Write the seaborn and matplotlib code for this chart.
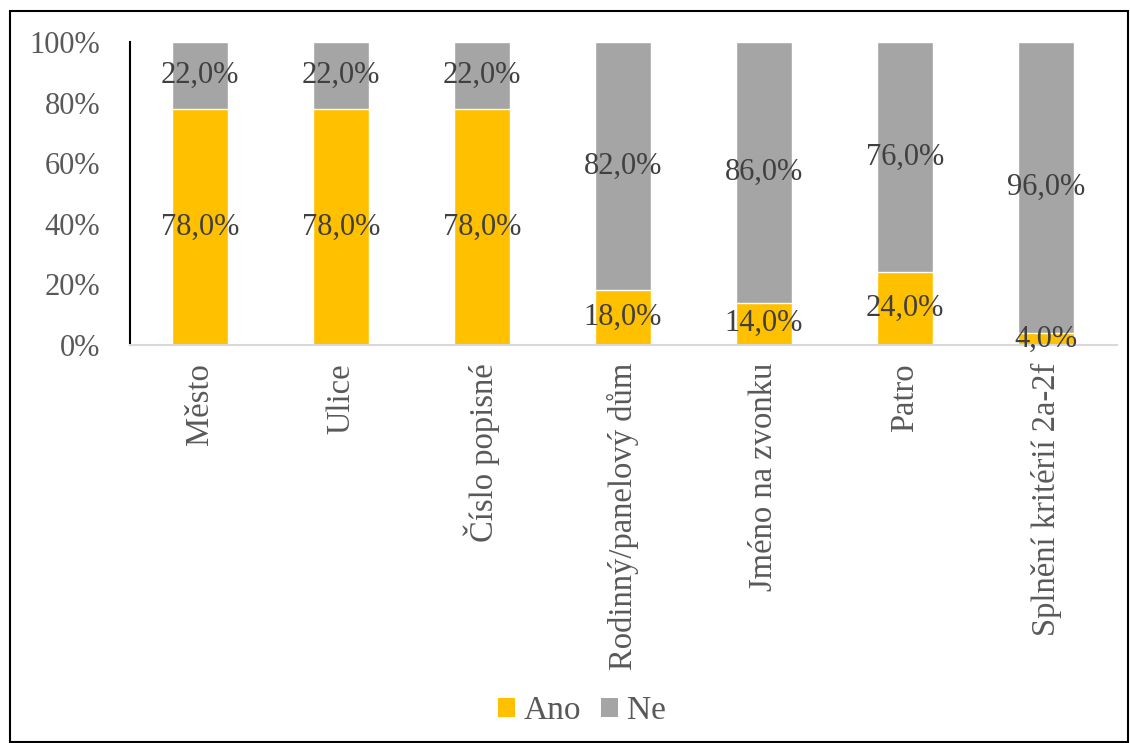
import matplotlib
matplotlib.use("Agg")
import matplotlib.pyplot as plt
import seaborn as sns
import pandas as pd
from matplotlib.patches import Patch, Rectangle

categories = ["Město", "Ulice", "Číslo popisné", "Rodinný/panelový dům",
              "Jméno na zvonku", "Patro", "Splnění kritérií 2a-2f"]
ano = [78.0, 78.0, 78.0, 18.0, 14.0, 24.0, 4.0]
ne = [22.0, 22.0, 22.0, 82.0, 86.0, 76.0, 96.0]
yticks = [0, 20, 40, 60, 80, 100]

sns.set_theme(style="white")
plt.rcParams['font.family'] = ['Liberation Serif', 'DejaVu Serif']

df = pd.DataFrame({"cat": categories, "Ano": ano, "Ne": ne})
df["total"] = df["Ano"] + df["Ne"]

fig = plt.figure(figsize=(11.3, 7.43), dpi=100)
ax = fig.add_axes([129.5 / 1130, 1 - 345 / 743, (1116.5 - 129.5) / 1130, (345 - 42) / 743])

C_ANO = "#FFC000"
C_NE = "#A5A5A5"
sns.barplot(data=df, x="cat", y="total", color=C_NE, width=0.4, ax=ax, saturation=1)
sns.barplot(data=df, x="cat", y="Ano", color=C_ANO, width=0.4, ax=ax, saturation=1)

ax.set_ylim(0, 100)
ax.set_xlim(-0.5, len(categories) - 0.5)
ax.set_yticks(yticks)
ax.set_yticklabels([f"{v}%" for v in yticks], fontsize=22, color="#595959")
ax.set_xticks(range(len(categories)))
ax.set_xticklabels(categories, rotation=90, fontsize=23.5, color="#595959")
ax.tick_params(axis="x", length=0, pad=13)
ax.tick_params(axis="y", length=0, pad=21)
ax.set_xlabel("")
ax.set_ylabel("")

for s in ["top", "right"]:
    ax.spines[s].set_visible(False)
ax.spines["left"].set_color("black")
ax.spines["left"].set_linewidth(1.5)
ax.spines["bottom"].set_color("#D9D9D9")
ax.spines["bottom"].set_linewidth(1.5)

def fmt(v):
    return f"{v:.1f}".replace(".", ",") + "%"

for i in range(len(categories)):
    a, n = ano[i], ne[i]
    ax.text(i, a / 2, fmt(a), ha="center", va="center", fontsize=22, color="#404040")
    ax.text(i, a + n / 2, fmt(n), ha="center", va="center", fontsize=22, color="#404040")

handles = [Patch(facecolor=C_ANO, edgecolor="none", label="Ano"),
           Patch(facecolor=C_NE, edgecolor="none", label="Ne")]
fig.legend(handles=handles, loc="center", bbox_to_anchor=(582 / 1130, 1 - 711 / 743), ncol=2,
           frameon=False, fontsize=24, handlelength=0.51, handleheight=0.51,
           handletextpad=0.25, columnspacing=0.6, labelcolor="#595959",
           borderpad=0, borderaxespad=0)

fig.patches.append(Rectangle((10 / 1130, 1 / 743), 1118 / 1130, 731 / 743,
                             transform=fig.transFigure, fill=False,
                             edgecolor="black", linewidth=1.5))

fig.savefig("out.png", dpi=100)
